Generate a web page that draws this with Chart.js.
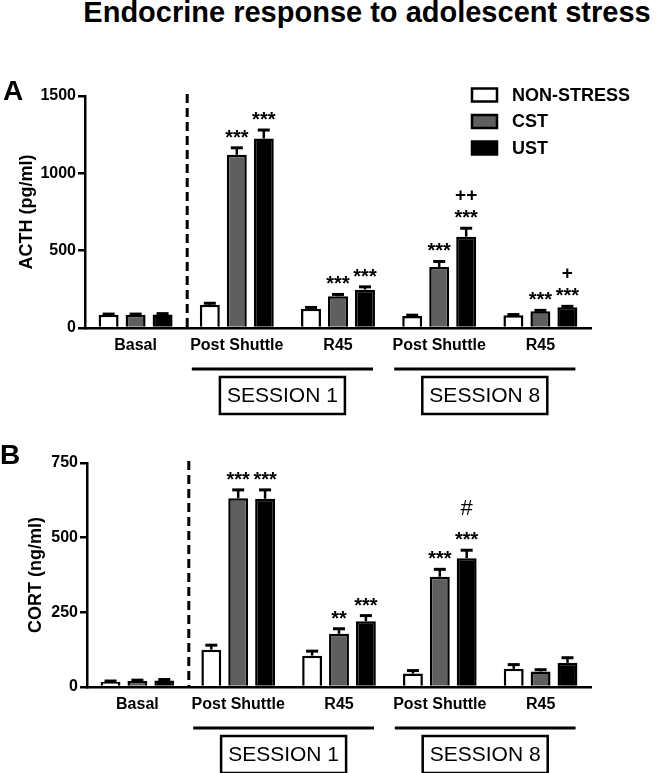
<!DOCTYPE html>
<html>
<head>
<meta charset="utf-8">
<script src="https://cdn.jsdelivr.net/npm/chart.js@4.4.1/dist/chart.umd.min.js"></script>
<style>
  body { margin: 0; background: #fff; width: 663px; height: 773px; position: relative; overflow: hidden; font-family: "Liberation Sans", Arial, sans-serif; }
  #title { position: absolute; top: -2px; left: 367px; transform: translateX(-50%); white-space: nowrap; font-weight: bold; font-size: 29px; line-height: 29px; color: #000; }
  canvas { position: absolute; left: 0; }
  #chartA { top: 40px; }
  #chartB { top: 420px; }
</style>
</head>
<body>
<div id="title">Endocrine response to adolescent stress</div>
<canvas id="chartA" width="663" height="380"></canvas>
<canvas id="chartB" width="663" height="353"></canvas>
<script>
var categories = ['Basal', 'Post Shuttle', 'R45', 'Post Shuttle', 'R45'];
var seriesNames = ['NON-STRESS', 'CST', 'UST'];
var seriesColors = ['#ffffff', '#5f5f5f', '#000000'];

// A: ACTH (pg/ml), mean and SEM
var acthNonStress = [85, 150, 125, 78, 82];
var acthNonStressErr = [5, 10, 8, 5, 5];
var acthCst = [85, 1120, 205, 395, 108];
var acthCstErr = [5, 45, 12, 35, 6];
var acthUst = [88, 1225, 248, 590, 134];
var acthUstErr = [5, 55, 18, 55, 6];
var acthCstSig = ['', '***', '***', '***', '***'];
var acthUstSig = ['', '***', '***', '***', '***'];
var acthUstMark = ['', '', '', '++', '+'];
var acthTicks = [0, 500, 1000, 1500];

// B: CORT (ng/ml), mean and SEM
var cortNonStress = [17, 125, 105, 45, 61];
var cortNonStressErr = [3, 15, 15, 10, 14];
var cortCst = [20, 632, 178, 369, 52];
var cortCstErr = [3, 28, 17, 25, 6];
var cortUst = [22, 630, 220, 431, 81];
var cortUstErr = [3, 30, 19, 27, 17];
var cortCstSig = ['', '***', '**', '***', ''];
var cortUstSig = ['', '***', '***', '***', ''];
var cortUstMark = ['', '', '', '#', ''];
var cortTicks = [0, 250, 500, 750];

var sessions = [
  { label: 'SESSION 1', from: 1, to: 2 },
  { label: 'SESSION 8', from: 3, to: 4 }
];

var FONT = '"Liberation Sans", Arial, sans-serif';

var extras = {
  id: 'extras',
  afterDraw: function(chart, args, o) {
    var ctx = chart.ctx, xs = chart.scales.x, ys = chart.scales.y, area = chart.chartArea;
    ctx.save();
    ctx.fillStyle = '#000';
    ctx.strokeStyle = '#000';

    // error bars and significance marks
    chart.data.datasets.forEach(function(ds, di) {
      var meta = chart.getDatasetMeta(di);
      meta.data.forEach(function(bar, i) {
        var top = ys.getPixelForValue(ds.data[i] + ds.errors[i]);
        ctx.lineWidth = 2.5;
        ctx.beginPath();
        ctx.moveTo(bar.x, bar.y);
        ctx.lineTo(bar.x, top);
        ctx.stroke();
        ctx.lineWidth = 3;
        ctx.beginPath();
        ctx.moveTo(bar.x - 6, top);
        ctx.lineTo(bar.x + 6, top);
        ctx.stroke();
        ctx.textAlign = 'center';
        ctx.textBaseline = 'alphabetic';
        if (ds.sig && ds.sig[i]) {
          ctx.font = 'bold 20px ' + FONT;
          ctx.fillText(ds.sig[i], bar.x, top - 4);
        }
        if (ds.marks && ds.marks[i]) {
          var m = ds.marks[i];
          ctx.font = (m === '#' ? '22px ' : 'bold 19px ') + FONT;
          ctx.fillText(m, bar.x, top - 4 - (m === '#' ? 31 : 23));
        }
      });
    });

    // dashed separator after Basal
    var dx = (xs.getPixelForValue(0) + xs.getPixelForValue(1)) / 2 + 1;
    ctx.lineWidth = 3;
    ctx.setLineDash([9, 5]);
    ctx.beginPath();
    ctx.moveTo(dx, ys.getPixelForValue(ys.max) - 2);
    ctx.lineTo(dx, area.bottom);
    ctx.stroke();
    ctx.setLineDash([]);

    // session brackets and boxes
    sessions.forEach(function(s) {
      var x1 = xs.getPixelForValue(s.from) - 45;
      var x2 = xs.getPixelForValue(s.to) + 35;
      var ly = area.bottom + 41;
      ctx.lineWidth = 3;
      ctx.beginPath();
      ctx.moveTo(x1, ly);
      ctx.lineTo(x2, ly);
      ctx.stroke();
      var cx = (x1 + x2) / 2, bw = 125, bh = 37, by = area.bottom + 49;
      ctx.lineWidth = 2.5;
      ctx.strokeRect(cx - bw / 2, by, bw, bh);
      ctx.font = '21px ' + FONT;
      ctx.textAlign = 'center';
      ctx.textBaseline = 'middle';
      ctx.fillText(s.label, cx, by + bh / 2 + 1);
    });

    // legend
    if (o.legend) {
      chart.data.datasets.forEach(function(ds, i) {
        var ly = o.legend.y + i * 26.5;
        ctx.fillStyle = ds.backgroundColor;
        ctx.fillRect(o.legend.x, ly - 6.5, 25, 13);
        ctx.lineWidth = 2.5;
        ctx.strokeRect(o.legend.x, ly - 6.5, 25, 13);
        ctx.fillStyle = '#000';
        ctx.font = 'bold 18px ' + FONT;
        ctx.textAlign = 'left';
        ctx.textBaseline = 'middle';
        ctx.fillText(ds.label, o.legend.x + 40, ly + 1);
      });
    }

    // panel letter
    ctx.fillStyle = '#000';
    ctx.font = 'bold 28px ' + FONT;
    ctx.textAlign = 'left';
    ctx.textBaseline = 'alphabetic';
    ctx.fillText(o.letter.text, o.letter.x, o.letter.y);
    ctx.restore();
  }
};

function makeChart(id, p) {
  var datasets = p.values.map(function(v, i) {
    return {
      label: seriesNames[i],
      data: v,
      errors: p.errors[i],
      sig: p.sig[i],
      marks: p.marks[i],
      backgroundColor: seriesColors[i],
      borderColor: '#000',
      borderWidth: 2.5,
      categoryPercentage: 0.8,
      barPercentage: 0.74
    };
  });
  return new Chart(document.getElementById(id), {
    type: 'bar',
    data: { labels: categories, datasets: datasets },
    options: {
      responsive: false,
      animation: false,
      layout: { padding: { top: p.padTop, right: 72, left: 0, bottom: 0 } },
      plugins: {
        legend: { display: false },
        tooltip: { enabled: false },
        extras: { legend: p.legend, letter: p.letter }
      },
      scales: {
        x: {
          afterFit: function(s) { s.height = p.xHeight; },
          grid: { display: false, drawTicks: false },
          border: { display: true, color: '#000', width: 2.5 },
          ticks: { color: '#000', padding: 8, font: { family: FONT, size: 16, weight: 'bold' } }
        },
        y: {
          min: 0,
          max: p.ticks[p.ticks.length - 1],
          afterFit: function(s) { s.width = p.yWidth; },
          afterBuildTicks: function(s) { s.ticks = p.ticks.map(function(t) { return { value: t }; }); },
          grid: { display: true, drawOnChartArea: false, drawTicks: true, tickLength: 7, color: '#000', lineWidth: 2.5 },
          border: { display: true, color: '#000', width: 2.5 },
          ticks: {
            color: '#000', padding: 2,
            font: { family: FONT, size: 16, weight: 'bold' },
            callback: function(v) { return String(v); }
          },
          title: {
            display: true, text: p.yTitle, color: '#000',
            font: { family: FONT, size: 18, weight: 'bold' },
            padding: { top: p.titlePad, bottom: 0 }
          }
        }
      }
    },
    plugins: [extras]
  });
}

makeChart('chartA', {
  values: [acthNonStress, acthCst, acthUst],
  errors: [acthNonStressErr, acthCstErr, acthUstErr],
  sig: [[], acthCstSig, acthUstSig],
  marks: [[], [], acthUstMark],
  ticks: acthTicks,
  yTitle: 'ACTH (pg/ml)',
  padTop: 56, xHeight: 92, yWidth: 85, titlePad: 16,
  legend: { x: 472, y: 55 },
  letter: { text: 'A', x: 3, y: 60 }
});

makeChart('chartB', {
  values: [cortNonStress, cortCst, cortUst],
  errors: [cortNonStressErr, cortCstErr, cortUstErr],
  sig: [[], cortCstSig, cortUstSig],
  marks: [[], [], cortUstMark],
  ticks: cortTicks,
  yTitle: 'CORT (ng/ml)',
  padTop: 43, xHeight: 86, yWidth: 87, titlePad: 25,
  legend: null,
  letter: { text: 'B', x: 0, y: 44 }
});
</script>
</body>
</html>
